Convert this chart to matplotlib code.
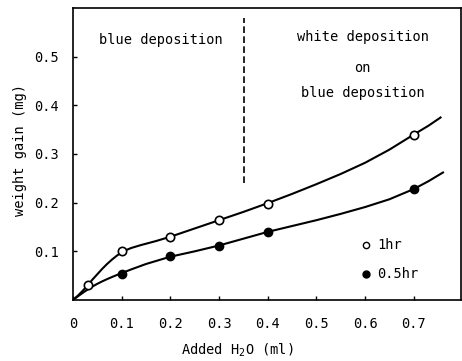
import matplotlib
matplotlib.use("Agg")
import matplotlib.pyplot as plt

# measured points
x_pts = [0.1, 0.2, 0.3, 0.4, 0.7]
open_x = [0.03, 0.1, 0.2, 0.3, 0.4, 0.7]
open_y = [0.03, 0.10, 0.13, 0.165, 0.198, 0.34]
fill_y = [0.053, 0.09, 0.11, 0.14, 0.228]

# fitted curves
curve_open_x = [0, 0.01, 0.02, 0.03, 0.04, 0.05, 0.06, 0.07, 0.08, 0.09, 0.1, 0.11, 0.12, 0.14, 0.17,
                0.2, 0.25, 0.3, 0.35, 0.4, 0.45, 0.5, 0.55, 0.6, 0.65, 0.7, 0.73, 0.755]
curve_open_y = [0, 0.009, 0.019, 0.03, 0.042, 0.053, 0.064, 0.074, 0.083, 0.091, 0.098, 0.103, 0.107, 0.113, 0.121,
                0.13, 0.147, 0.164, 0.181, 0.199, 0.218, 0.238, 0.259, 0.282, 0.309, 0.34, 0.358, 0.375]
curve_fill_x = [0, 0.01, 0.02, 0.03, 0.04, 0.05, 0.06, 0.07, 0.08, 0.09, 0.1, 0.12, 0.15,
                0.2, 0.25, 0.3, 0.35, 0.4, 0.45, 0.5, 0.55, 0.6, 0.65, 0.7, 0.73, 0.76]
curve_fill_y = [0, 0.0075, 0.0147, 0.0215, 0.0277, 0.0333, 0.0383, 0.0429, 0.0472, 0.0513, 0.0553, 0.063, 0.074,
                0.089, 0.1, 0.112, 0.126, 0.14, 0.152, 0.164, 0.177, 0.191, 0.207, 0.228, 0.244, 0.262]

xticks = [0, 0.1, 0.2, 0.3, 0.4, 0.5, 0.6, 0.7]
xticklabels = ["0", "0.1", "0.2", "0.3", "0.4", "0.5", "0.6", "0.7"]
yticks = [0.1, 0.2, 0.3, 0.4, 0.5]
yticklabels = ["0.1", "0.2", "0.3", "0.4", "0.5"]

plt.rcParams['font.family'] = ['DejaVu Sans Mono']
fig = plt.figure(figsize=(4.62, 3.61), dpi=100)
ax = fig.add_axes([73/462, 1-300/361, (461-73)/462, (300-8)/361])

ax.plot(curve_open_x, curve_open_y, color='black', lw=1.5)
ax.plot(curve_fill_x, curve_fill_y, color='black', lw=1.5)
ax.plot(open_x, open_y, 'o', ms=6, mfc='white', mec='black', mew=1.2, zorder=3)
ax.plot(x_pts, fill_y, 'o', ms=6, mfc='black', mec='black', zorder=3)

ax.plot([0.352, 0.352], [0.24, 0.58], color='black', lw=1.2, ls=(0, (4, 2)))

fs = 9.8
ax.text(0.18, 0.535, "blue deposition", ha='center', va='center', fontsize=fs)
ax.text(0.595, 0.54, "white deposition", ha='center', va='center', fontsize=fs)
ax.text(0.595, 0.477, "on", ha='center', va='center', fontsize=fs)
ax.text(0.595, 0.425, "blue deposition", ha='center', va='center', fontsize=fs)

ax.plot([0.602], [0.113], 'o', ms=4.5, mfc='white', mec='black', mew=1)
ax.text(0.625, 0.113, "1hr", va='center', fontsize=fs)
ax.plot([0.602], [0.053], 'o', ms=5, mfc='black', mec='black')
ax.text(0.625, 0.053, "0.5hr", va='center', fontsize=fs)

ax.set_xlim(0, 0.797)
ax.set_ylim(0, 0.6)
ax.set_xticks(xticks)
ax.set_xticklabels(xticklabels, fontsize=fs)
ax.set_yticks(yticks)
ax.set_yticklabels(yticklabels, fontsize=fs)
ax.tick_params(direction='in', length=3, width=1)
ax.tick_params(axis='x', pad=12)
ax.tick_params(axis='y', pad=10)
for s in ax.spines.values():
    s.set_linewidth(1.2)

fig.text(20/462, 1-150/361, "weight gain (mg)", rotation=90, ha='center', va='center', fontsize=fs)
fig.text(237/462, 1-350/361, "Added H$_2$O (ml)", ha='center', va='center', fontsize=fs)

fig.savefig("out.png", dpi=100)
